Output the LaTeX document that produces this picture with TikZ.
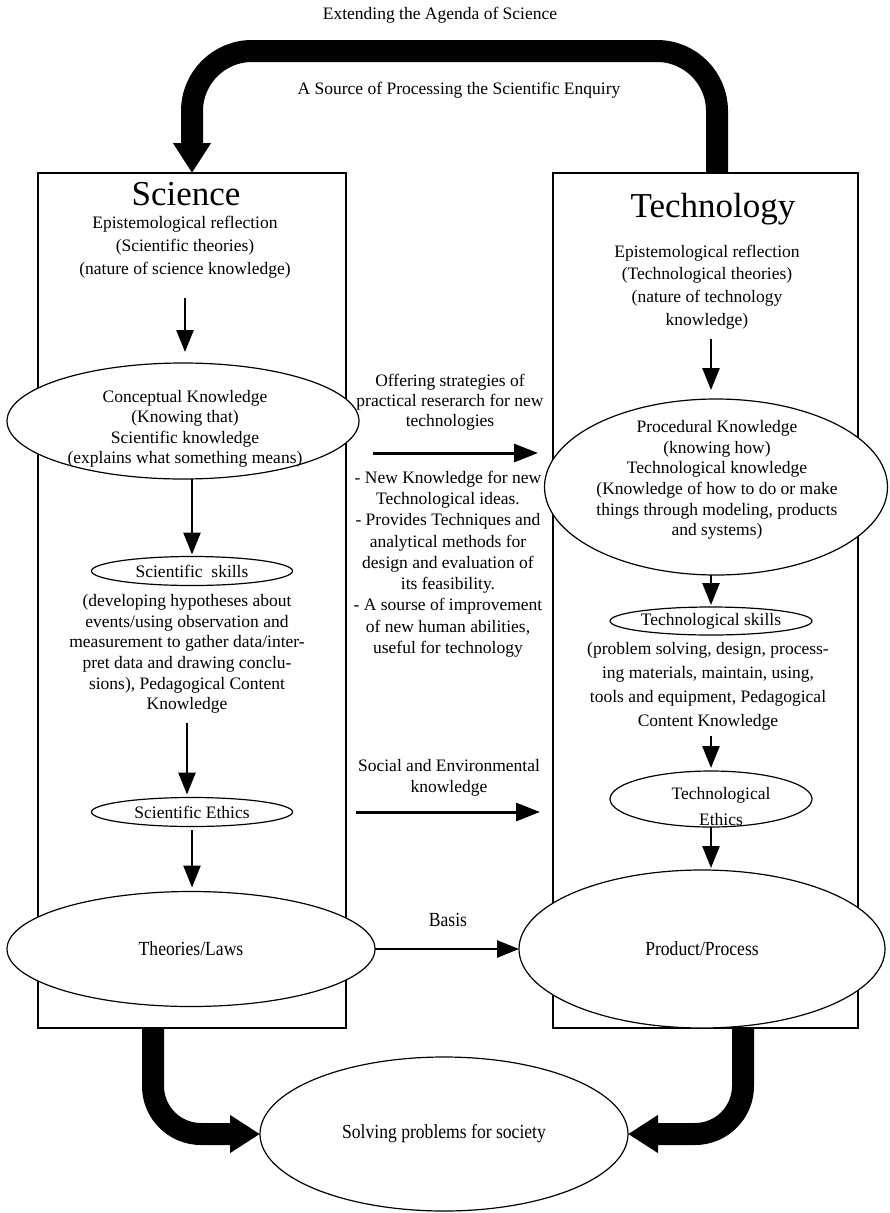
\documentclass[tikz,border=0pt]{standalone}
\usepackage{graphicx}
\usepackage{fontspec}
\setmainfont{Liberation Serif}
\usetikzlibrary{arrows.meta,shapes.geometric}
% slightly condensed lettering used inside the large ovals
\newcommand\narrowtext[1]{\scalebox{0.88}[1]{#1}}
\begin{document}
\begin{tikzpicture}[x=1pt,y=-1pt,
  every node/.style={inner sep=0pt, outer sep=0pt},
  txt/.style={align=center, font=\fontsize{17.5}{21}\selectfont},
  heading/.style={font=\fontsize{35}{40}\selectfont, anchor=base},
  frame/.style={draw, line width=1.5pt},
  oval/.style={ellipse, draw, fill=white, line width=1.2pt},
  link/.style={line width=2.6pt, -{Triangle[width=17pt,length=22pt]}},
  widelink/.style={line width=3pt, -{Triangle[width=18pt,length=24pt]}},
  bigflow/.style={line width=22pt, -{Triangle[width=36pt,length=30pt]}},
  cond/.style={font=\fontsize{20}{24}\selectfont}
]
\useasboundingbox (0,0) rectangle (889,1213);

% the two domain frames
\node[frame, minimum width=308pt, minimum height=855pt] (sci) at (192,600.5) {};
\node[frame, minimum width=305pt, minimum height=855pt] (tech) at (705.5,600.5) {};

% headings and captions
\node[txt] (ext) at (440,15) {Extending the Agenda of Science};
\node[txt] (src) at (459,90) {A Source of Processing the Scientific Enquiry};
\node[heading] (scititle) at (186,205) {Science};
\node[heading] (techtitle) at (713,217) {Technology};

% science column
\node[txt, font=\fontsize{17.5}{23}\selectfont] (sepi) at (185,247)
  {Epistemological reflection\\(Scientific theories)\\(nature of science knowledge)};
\node[oval, minimum width=352pt, minimum height=116pt] (concept) at (183,421) {};
\node[txt, font=\fontsize{17.5}{20.5}\selectfont] (concepttxt) at (185,429)
  {Conceptual Knowledge\\(Knowing that)\\Scientific knowledge\\(explains what something means)};
\node[oval, txt, minimum width=201pt, minimum height=29pt] (sskill) at (192,571) {Scientific\ \ skills};
\node[txt, font=\fontsize{17.5}{20.6}\selectfont] (spara) at (187,654)
  {(developing hypotheses about\\events/using observation and\\measurement to gather data/inter-\\pret data and drawing conclu-\\sions), Pedagogical Content\\Knowledge};
\node[oval, txt, minimum width=201pt, minimum height=29pt] (sethic) at (192,812) {Scientific Ethics};
\node[oval, cond, minimum width=368pt, minimum height=115pt] (theories) at (191,949) {\narrowtext{Theories/Laws}};

% technology column
\node[txt, font=\fontsize{17.5}{22.7}\selectfont] (tepi) at (707,287)
  {Epistemological reflection\\(Technological theories)\\(nature of technology\\knowledge)};
\node[oval, minimum width=343pt, minimum height=176pt] (proc) at (716,487) {};
\node[txt, font=\fontsize{17.5}{20.6}\selectfont] (proctxt) at (717,480)
  {Procedural Knowledge\\(knowing how)\\Technological knowledge\\(Knowledge of how to do or make\\things through modeling, products\\and systems)};
\node[oval, txt, minimum width=202pt, minimum height=28pt] (tskill) at (711,621) {Technological skills};
\node[txt, font=\fontsize{17.5}{24}\selectfont] (tpara) at (708,686)
  {(problem solving, design, process-\\ing materials, maintain, using,\\tools and equipment, Pedagogical\\Content Knowledge};
\node[oval, minimum width=202pt, minimum height=56pt] (tethic) at (711,799) {};
\node[txt, font=\fontsize{17.5}{26}\selectfont] (tethictxt) at (721,807) {Technological\\Ethics};
\node[oval, cond, minimum width=366pt, minimum height=158pt] (product) at (702,949) {\narrowtext{Product/Process}};

% shared outcome
\node[oval, cond, minimum width=368pt, minimum height=154pt] (solve) at (444,1134) {\narrowtext{Solving problems for society}};

% texts between the columns
\node[txt, font=\fontsize{17.5}{20}\selectfont] (offer) at (450,402)
  {Offering strategies of\\practical reserarch for new\\technologies};
\node[txt, font=\fontsize{17.5}{21.25}\selectfont] (newk) at (448,564)
  {- New Knowledge for new\\Technological ideas.\\- Provides Techniques and\\analytical methods for\\design and evaluation of\\its feasibility.\\- A sourse of improvement\\of new human abilities,\\useful for technology};
\node[txt] (social) at (449,778) {Social and Environmental\\knowledge};
\node[cond] (basis) at (448,920) {\narrowtext{Basis}};

\coordinate (offerA) at (373,453);
\coordinate (offerB) at (538,453);
\coordinate (socialA) at (356,812);
\coordinate (socialB) at (540,812);

% flow inside the science column
\draw[link, shorten <=20pt, shorten >=11pt] (sepi.south) -- (sepi.south |- concept.north);
\draw[link, shorten >=2pt] (concept.south -| sskill.north) -- (sskill.north);
\draw[link, shorten <=10pt, shorten >=3pt] (spara.south) -- (spara.south |- sethic.north);
\draw[link, shorten <=3pt, shorten >=4pt] (sethic.south) -- (sethic.south |- theories.north);

% flow inside the technology column
\draw[link, shorten <=10pt, shorten >=9pt] (tepi.south -| tskill.north) -- (tskill.north |- proc.north);
\draw[link, shorten >=2pt] (proc.south -| tskill.north) -- (tskill.north);
\draw[link, shorten <=6pt, shorten >=3pt] (tpara.south -| tskill.north) -- (tethic.north);
\draw[link, shorten >=2pt] (tethic.south) -- (tethic.south |- product.north);

% links from science to technology
\draw[widelink] (offerA) -- (offerB);
\draw[widelink] (socialA) -- (socialB);
\draw[link] (theories.east) -- (product.west);

% large feedback and outcome arrows
\draw[bigflow, rounded corners=60pt] ([xshift=11.5pt]tech.north) -- ++(0,-122) -| (sci.north);
\draw[bigflow, rounded corners=48pt] ([xshift=-39pt]sci.south) |- (solve.west);
\draw[bigflow, rounded corners=48pt] ([xshift=37.5pt]tech.south) |- (solve.east);
\end{tikzpicture}
\end{document}
